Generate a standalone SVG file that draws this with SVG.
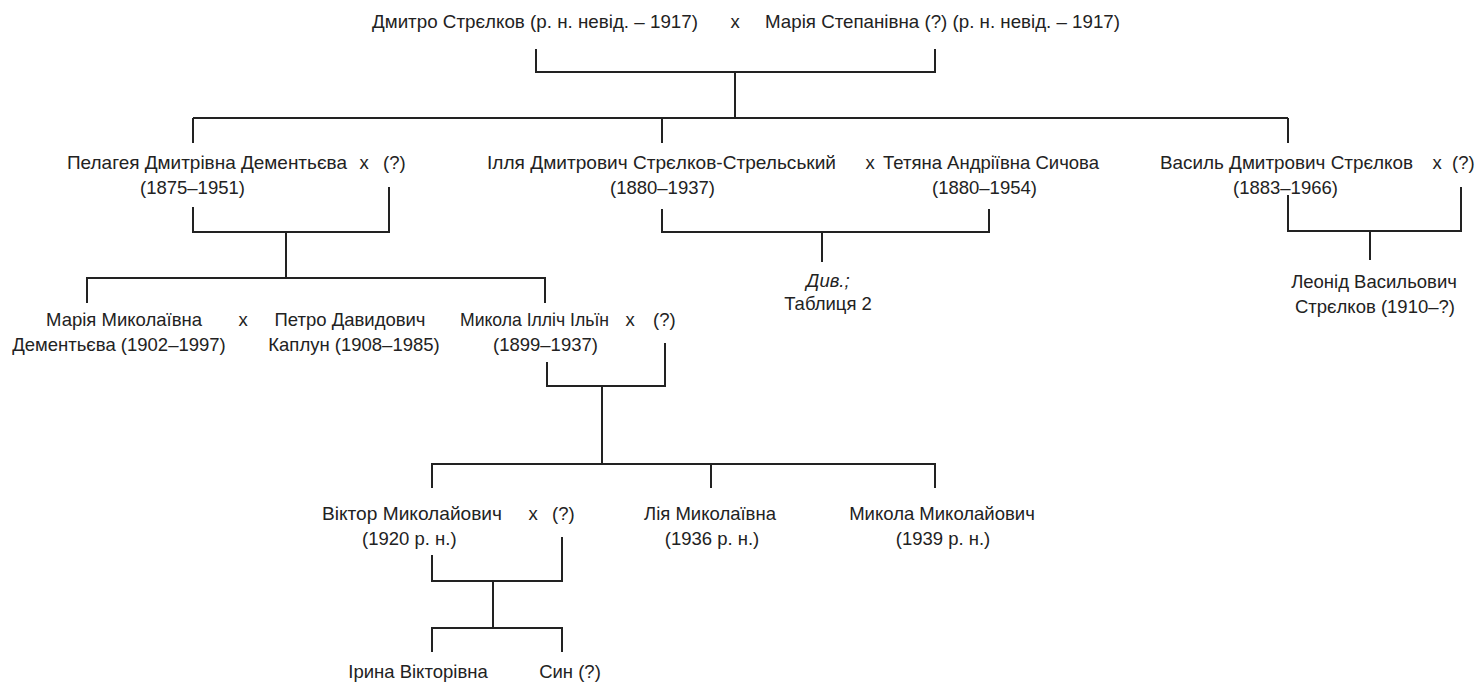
<svg xmlns="http://www.w3.org/2000/svg" width="1475" height="685" viewBox="0 0 1475 685">
<style>
text{font-family:"Liberation Sans",Arial,sans-serif;font-size:18.5px;fill:#222}
.m{text-anchor:middle}
.i{font-style:italic}
.c{fill:none;stroke:#222;stroke-width:2}
</style>
<rect width="1475" height="685" fill="#fff"/>
<g id="connectors" class="c">
<path d="M536,49V72H935V49M735,72V118"/>
<path d="M193,118H1288M193,118V143M662,118V143M1288,118V143"/>
<path d="M193,207V232H389V187M286,232V278"/>
<path d="M87,303V278H545V303"/>
<path d="M662,209V232H989V209M822,232V262"/>
<path d="M1288,195V231H1461V187M1370,231V260"/>
<path d="M547,362V386H665V343M602,386V464"/>
<path d="M432,488V464H935V488M711,464V488"/>
<path d="M432,555V581H562V537M493,581V628"/>
<path d="M432,652V628H562V652"/>
</g>
<g id="n-dmytro"><text x="372" y="28" textLength="326" lengthAdjust="spacingAndGlyphs">Дмитро Стрєлков (р. н. невід. – 1917)</text><text class="m" x="735" y="28">x</text><text x="765" y="28" textLength="355" lengthAdjust="spacingAndGlyphs">Марія Степанівна (?) (р. н. невід. – 1917)</text></g>
<g id="n-pelageia"><text x="67" y="169" textLength="280" lengthAdjust="spacingAndGlyphs">Пелагея Дмитрівна Дементьєва</text><text class="m" x="364" y="169">x</text><text x="383" y="169">(?)</text><text x="140" y="194">(1875–1951)</text></g>
<g id="n-illia"><text x="487" y="169" textLength="349" lengthAdjust="spacingAndGlyphs">Ілля Дмитрович Стрєлков-Стрельський</text><text class="m" x="870" y="169">x</text><text x="883" y="169">Тетяна Андріївна Сичова</text><text x="610" y="194">(1880–1937)</text><text x="932" y="194">(1880–1954)</text></g>
<g id="n-dyv"><text class="m i" x="828" y="287">Див.;</text><text class="m" x="828" y="310">Таблиця 2</text></g>
<g id="n-vasyl"><text x="1160" y="169" textLength="253" lengthAdjust="spacingAndGlyphs">Василь Дмитрович Стрєлков</text><text class="m" x="1437" y="169">x</text><text x="1452" y="169">(?)</text><text x="1233" y="194">(1883–1966)</text></g>
<g id="n-leonid"><text class="m" x="1374" y="288">Леонід Васильович</text><text class="m" x="1375" y="313">Стрєлков (1910–?)</text></g>
<g id="n-mariia"><text class="m" x="124" y="326">Марія Миколаївна</text><text class="m" x="119" y="351">Дементьєва (1902–1997)</text></g>
<g id="n-x1"><text class="m" x="243" y="326">x</text></g>
<g id="n-petro"><text class="m" x="350" y="326">Петро Давидович</text><text class="m" x="354" y="351">Каплун (1908–1985)</text></g>
<g id="n-mykola"><text x="460" y="326" textLength="149" lengthAdjust="spacingAndGlyphs">Микола Ілліч Ільїн</text><text class="m" x="630" y="326">x</text><text x="653" y="326">(?)</text><text x="493" y="351">(1899–1937)</text></g>
<g id="n-viktor"><text x="322" y="520" textLength="180" lengthAdjust="spacingAndGlyphs">Віктор Миколайович</text><text class="m" x="533" y="520">x</text><text x="552" y="520">(?)</text><text x="362" y="545">(1920 р. н.)</text></g>
<g id="n-liia"><text class="m" x="710" y="520">Лія Миколаївна</text><text class="m" x="712" y="545">(1936 р. н.)</text></g>
<g id="n-mykola2"><text class="m" x="942" y="520">Микола Миколайович</text><text class="m" x="943" y="545">(1939 р. н.)</text></g>
<g id="n-iryna"><text class="m" x="418" y="678">Ірина Вікторівна</text></g>
<g id="n-syn"><text class="m" x="570" y="678">Син (?)</text></g>
</svg>
